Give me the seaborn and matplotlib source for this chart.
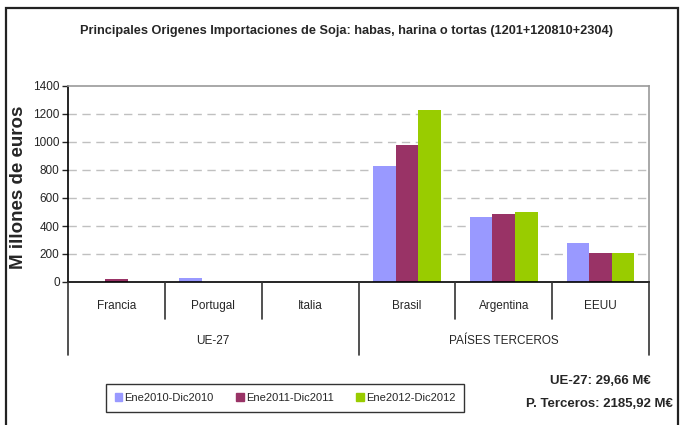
import pandas as pd
import numpy as np
import matplotlib
matplotlib.use('Agg')
import matplotlib.pyplot as plt
import matplotlib.transforms as mtransforms
from matplotlib.patches import Rectangle
from matplotlib.lines import Line2D
import seaborn as sns

# ============================================
# DATA
# ============================================
countries = ['Francia', 'Portugal', 'Italia', 'Brasil', 'Argentina', 'EEUU']
groups = ['UE-27', 'PAÍSES TERCEROS']
group_sizes = [3, 3]
periods = ['Ene2010-Dic2010', 'Ene2011-Dic2011', 'Ene2012-Dic2012']
v2010 = [3, 28, 0, 826, 462, 276]
v2011 = [20, 3, 0, 976, 483, 205]
v2012 = [2, 2, 0, 1226, 498, 205]
colors = ['#9999FF', '#993366', '#99CC00']
totals = ['UE-27: 29,66 M€', 'P. Terceros: 2185,92 M€']

df = pd.DataFrame({
    'Pais': countries * 3,
    'Periodo': [periods[0]] * 6 + [periods[1]] * 6 + [periods[2]] * 6,
    'Valor': v2010 + v2011 + v2012,
})

sns.set_style('white')
plt.rcParams['font.family'] = ['Liberation Sans', 'DejaVu Sans']

W, H = 682, 425
fig = plt.figure(figsize=(W / 100, H / 100), dpi=100)


def fx(px):
    return px / W


def fy(py):
    return 1 - py / H


ax = fig.add_axes([fx(68), fy(282), fx(649) - fx(68), fy(86) - fy(282)])

sns.barplot(data=df, x='Pais', y='Valor', hue='Periodo', order=countries,
            hue_order=periods, palette=colors, width=0.7, saturation=1,
            linewidth=0, legend=False, ax=ax)

ax.set_xlim(-0.5, 5.5)
ax.set_ylim(0, 1400)
ax.set_yticks(np.arange(0, 1401, 200))
ax.tick_params(axis='y', labelsize=8.5, length=4, width=1, direction='out', pad=2, left=True)
ax.set_xticks([])
ax.set_xlabel('')
ax.set_ylabel('')
for y in range(200, 1400, 200):
    ax.axhline(y, color='#c0c0c0', lw=1, ls=(0, (6, 4)), zorder=0)

ax.spines['left'].set_color('black')
ax.spines['bottom'].set_color('black')
ax.spines['top'].set_color('#999999')
ax.spines['right'].set_color('#999999')
for s in ax.spines.values():
    s.set_linewidth(1.2)

# y label
fig.text(fx(19), fy(187), 'M illones de euros', rotation=90, ha='center', va='center',
         fontsize=13.5, fontweight='bold')

# title
fig.text(fx(346), fy(31), 'Principales Origenes Importaciones de Soja: habas, harina o tortas (1201+120810+2304)',
         ha='center', va='center', fontsize=9.2, fontweight='bold')

# multi-level category axis
trans = mtransforms.blended_transform_factory(ax.transData, fig.transFigure)
for i, c in enumerate(countries):
    ax.text(i, fy(306), c, transform=trans, ha='center', va='center', fontsize=8.5)
for b in (1, 2, 4, 5):
    fig.add_artist(Line2D([b - 0.5, b - 0.5], [fy(282), fy(319)], transform=trans,
                          color='#333333', lw=1.2))
start = 0
bounds = [-0.5]
for g, n in zip(groups, group_sizes):
    ax.text(start + (n - 1) / 2, fy(341), g, transform=trans, ha='center', va='center', fontsize=8.5)
    start += n
    bounds.append(start - 0.5)
for b in bounds:
    fig.add_artist(Line2D([b, b], [fy(282), fy(355)], transform=trans, color='#333333', lw=1.2))

# legend
handles = [Rectangle((0, 0), 1, 1, color=c) for c in colors]
leg = fig.legend(handles, periods, loc='center', bbox_to_anchor=(fx(285), fy(398)), ncol=3,
                 frameon=True, fancybox=False, fontsize=8, handlelength=0.7, handleheight=0.7,
                 handletextpad=0.2, columnspacing=2.0, borderpad=0.8)
leg.get_frame().set_edgecolor('black')
leg.get_frame().set_linewidth(1)

# totals
fig.text(fx(600), fy(381), totals[0], ha='center', va='center', fontsize=9.5, fontweight='bold')
fig.text(fx(599), fy(404), totals[1], ha='center', va='center', fontsize=9.5, fontweight='bold')

# outer border
fig.add_artist(Rectangle((fx(6), fy(440)), fx(678) - fx(6), fy(8) - fy(440), transform=fig.transFigure,
                         fill=False, edgecolor='#222222', lw=1.6, clip_on=False))

fig.savefig('out.png', dpi=100)
